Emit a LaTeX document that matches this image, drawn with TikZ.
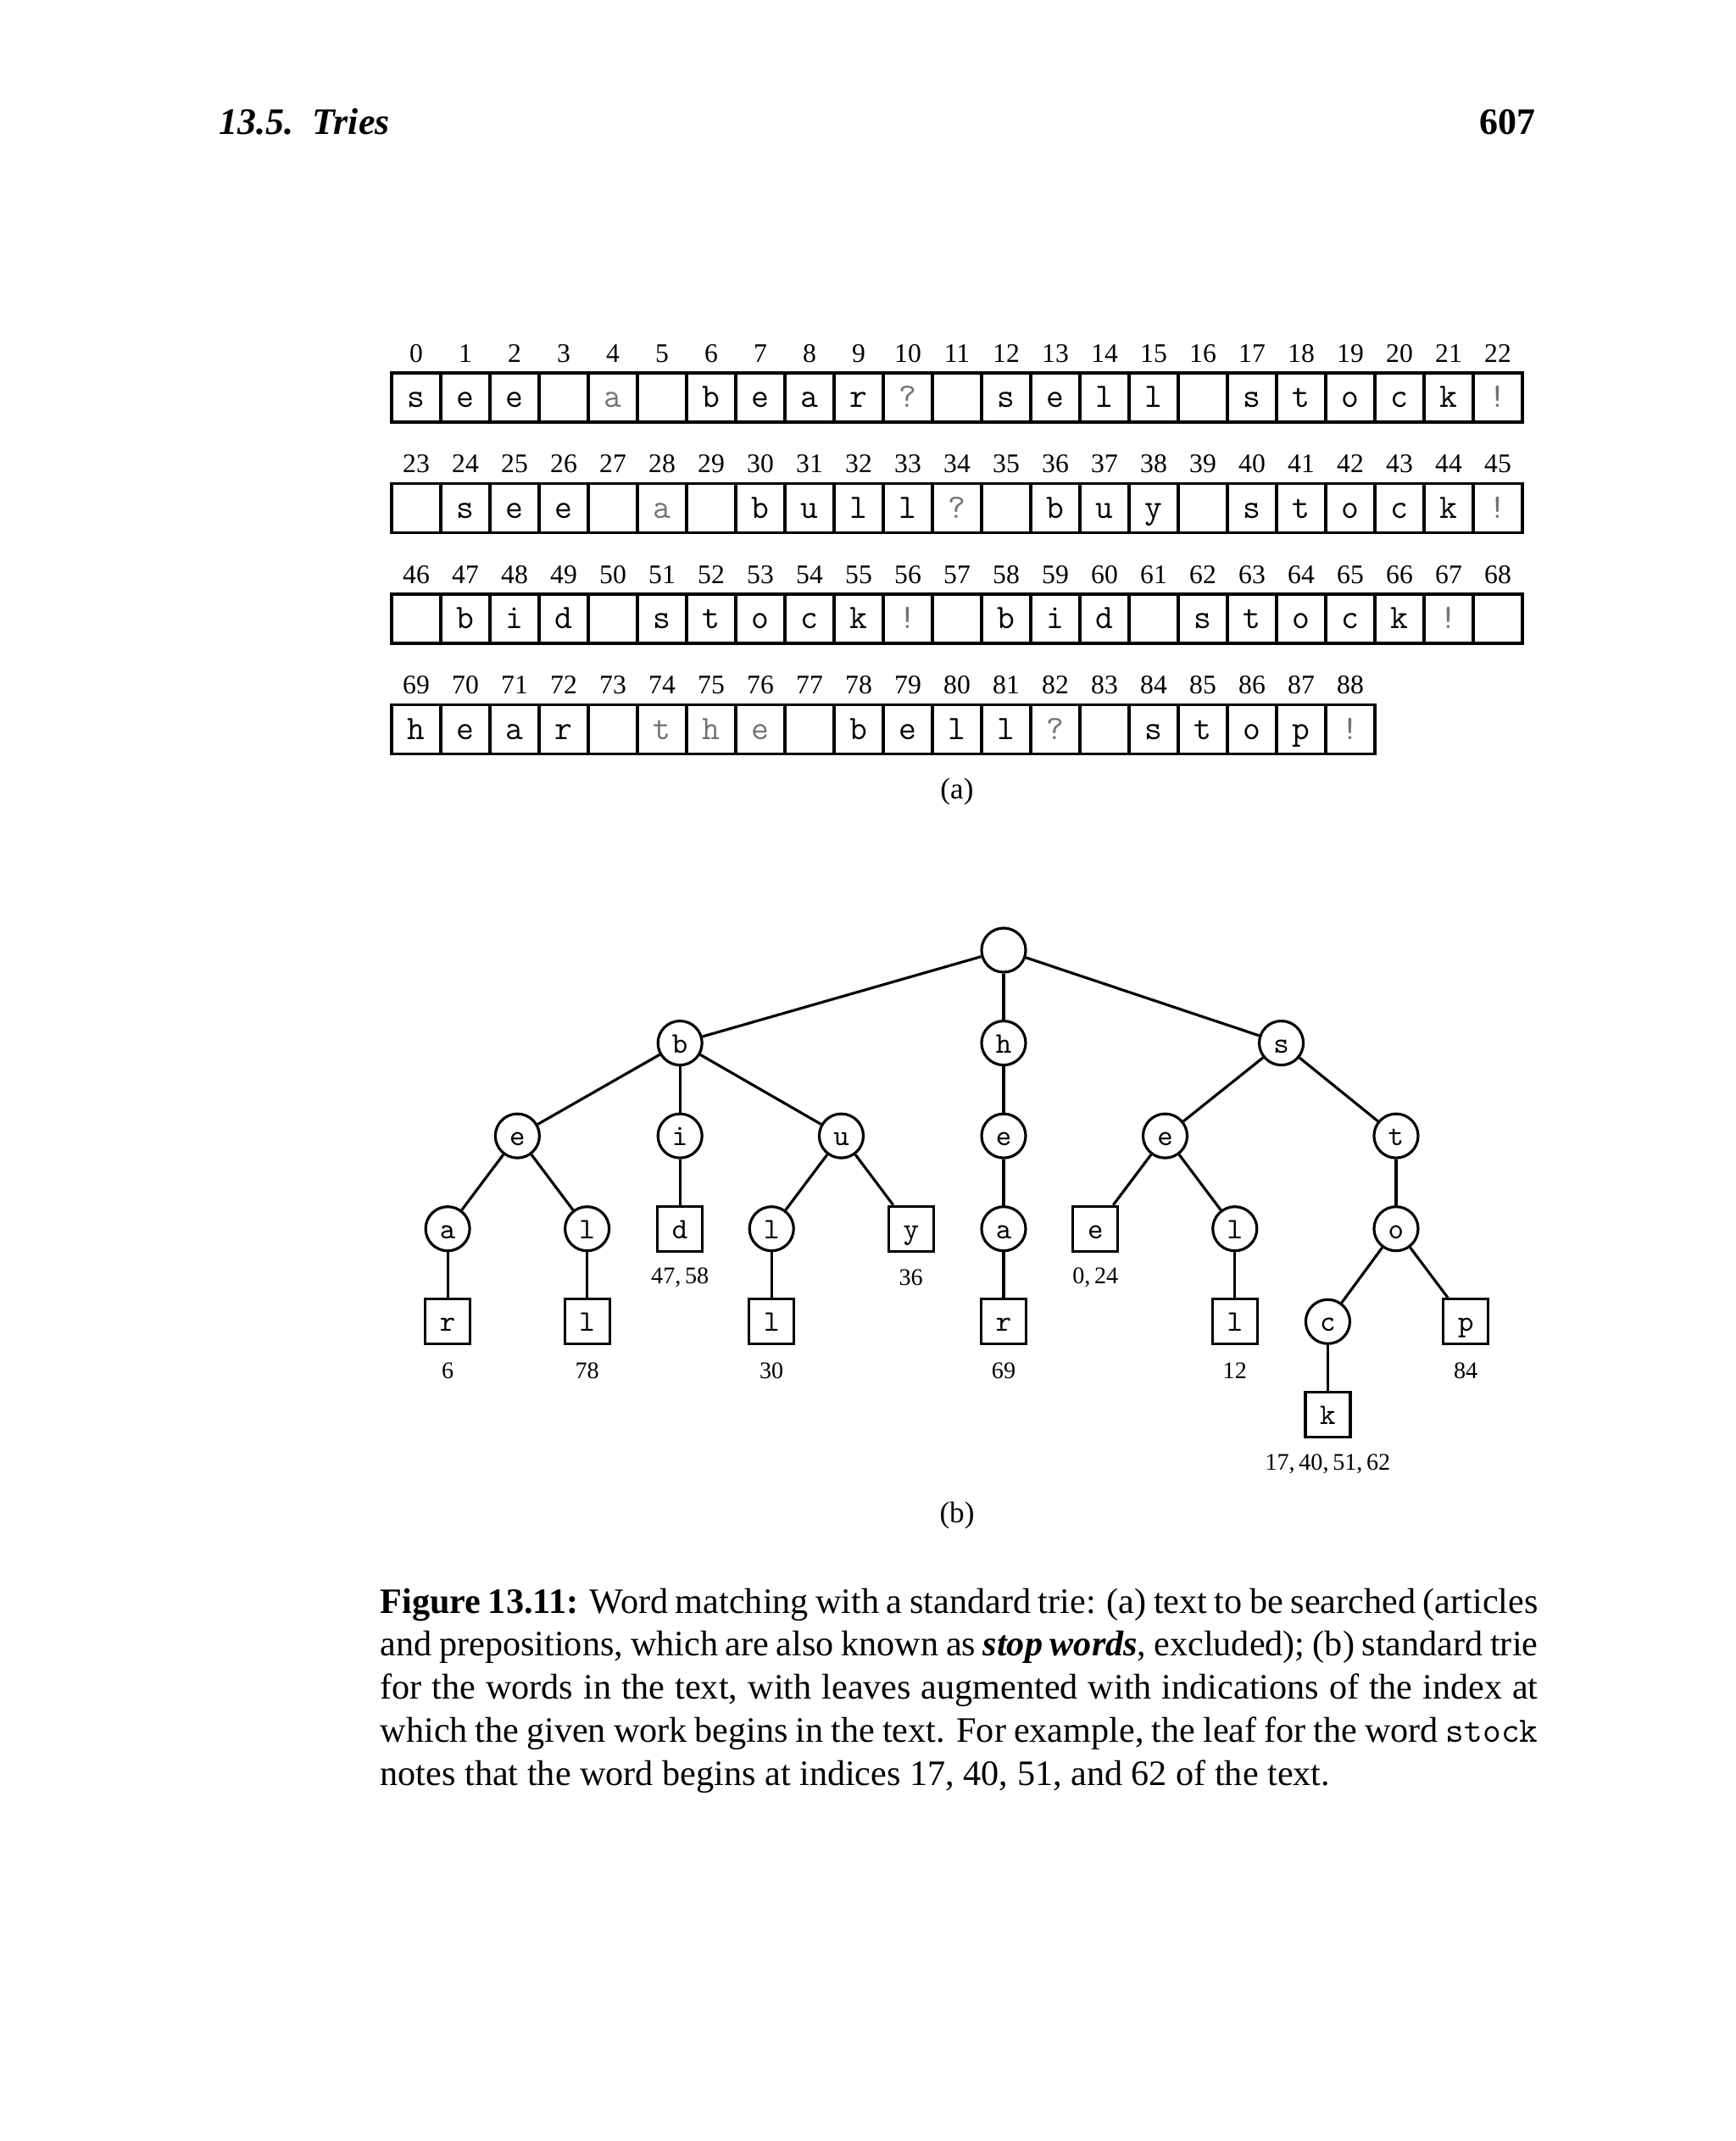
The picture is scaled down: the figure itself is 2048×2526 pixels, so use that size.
\documentclass[tikz,border=0pt]{standalone}
\usepackage{fontspec}
\setmainfont{Liberation Serif}
\usepackage{tikz}
\usetikzlibrary{positioning}
\newcommand{\greyed}[1]{\textcolor{black!55}{#1}}

\begin{document}
\begin{tikzpicture}[x=0.01cm,y=-0.01cm,on grid]

		\def\lev{1.095cm}

		\tikzset{line/.style={draw,line width=0.9pt}}
		\tikzset{cell/.style={line,rectangle,minimum width=0.58cm,minimum height=0.58cm,inner sep=0pt,text height=1.7ex,text depth=0.25ex,font=\ttfamily\fontsize{11.5}{13}\selectfont}}
		\tikzset{num/.style={inner sep=0pt,font=\fontsize{9}{10}\selectfont}}
		\tikzset{inode/.style={line,circle,minimum size=0.52cm,inner sep=0pt,text height=1.7ex,text depth=0.25ex,font=\ttfamily\fontsize{10}{12}\selectfont}}
		\tikzset{leaf/.style={line,rectangle,minimum size=0.53cm,inner sep=0pt,text height=1.7ex,text depth=0.25ex,font=\ttfamily\fontsize{10}{12}\selectfont}}
		\tikzset{hits/.style={inner sep=0pt,font=\fontsize{8}{10}\selectfont}}
		\tikzset{sub/.style={inner sep=0pt,font=\fontsize{10}{12}\selectfont}}

		\fill[white] (0,0) rectangle (2048,2526);
		\useasboundingbox (0,0) rectangle (2048,2526);

		% running head
		\node[anchor=west,inner sep=0pt,font=\fontsize{12.5}{15}\selectfont] (head) at (258,144) {\textbf{\textit{13.5.\ \ Tries}}};
		\node[anchor=east,inner sep=0pt,font=\fontsize{12.5}{15}\selectfont] (page) at (1812,144) {\textbf{607}};

		% (a) text, 23 cells per row
		\foreach \ch [count=\n from 0, evaluate=\n as \col using {int(mod(\n,23))}, evaluate=\n as \row using {int(\n/23)}] in
			{s,e,e,{},\greyed{a},{},b,e,a,r,\greyed{?},{},s,e,l,l,{},s,t,o,c,k,\greyed{!},
			 {},s,e,e,{},\greyed{a},{},b,u,l,l,\greyed{?},{},b,u,y,{},s,t,o,c,k,\greyed{!},
			 {},b,i,d,{},s,t,o,c,k,\greyed{!},{},b,i,d,{},s,t,o,c,k,\greyed{!},{},
			 h,e,a,r,{},\greyed{t},\greyed{h},\greyed{e},{},b,e,l,l,\greyed{?},{},s,t,o,p,\greyed{!}} {
			\node[cell] (t\n) at (491+58*\col, 469+130.5*\row) {\ch};
			\node[num, above=0.52cm of t\n] (n\n) {\n};
		}
		\node[sub] (suba) at (1129,934) {(a)};

		% (b) trie
		\node[inode] (root) at (1184,1121) {};

		\node[inode, below left=\lev and 3.816cm of root] (b) {b};
		\node[inode, below=\lev of root] (h) {h};
		\node[inode, below right=\lev and 3.274cm of root] (s) {s};

		\node[inode, below left=\lev and 1.917cm of b] (be) {e};
		\node[inode, below=\lev of b] (bi) {i};
		\node[inode, below right=\lev and 1.902cm of b] (bu) {u};
		\node[inode, below=\lev of h] (he) {e};
		\node[inode, below left=\lev and 1.37cm of s] (se) {e};
		\node[inode, below right=\lev and 1.353cm of s] (st) {t};

		\node[inode, below left=\lev and 0.822cm of be] (bea) {a};
		\node[inode, below right=\lev and 0.822cm of be] (bel) {l};
		\node[leaf, below=\lev of bi] (bid) {d};
		\node[inode, below left=\lev and 0.822cm of bu] (bul) {l};
		\node[leaf, below right=\lev and 0.822cm of bu] (buy) {y};
		\node[inode, below=\lev of he] (hea) {a};
		\node[leaf, below left=\lev and 0.822cm of se] (see) {e};
		\node[inode, below right=\lev and 0.822cm of se] (sel) {l};
		\node[inode, below=\lev of st] (sto) {o};

		\node[leaf, below=\lev of bea] (bear) {r};
		\node[leaf, below=\lev of bel] (bell) {l};
		\node[leaf, below=\lev of bul] (bull) {l};
		\node[leaf, below=\lev of hea] (hear) {r};
		\node[leaf, below=\lev of sel] (sell) {l};
		\node[inode, below left=\lev and 0.805cm of sto] (stoc) {c};
		\node[leaf, below right=\lev and 0.822cm of sto] (stop) {p};

		\node[leaf, below=\lev of stoc] (stock) {k};

		% indices at the leaves
		\node[hits, below=0.58cm of bid] (hbid) {47,\,58};
		\node[hits, below=0.58cm of buy] (hbuy) {36};
		\node[hits, below=0.58cm of see] (hsee) {0,\,24};
		\node[hits, below=0.58cm of bear] (hbear) {6};
		\node[hits, below=0.58cm of bell] (hbell) {78};
		\node[hits, below=0.58cm of bull] (hbull) {30};
		\node[hits, below=0.58cm of hear] (hhear) {69};
		\node[hits, below=0.58cm of sell] (hsell) {12};
		\node[hits, below=0.58cm of stop] (hstop) {84};
		\node[hits, below=0.58cm of stock] (hstock) {17,\,40,\,51,\,62};

		\path[line] (root) to (b);
		\path[line] (root) to (h);
		\path[line] (root) to (s);

		\path[line] (b) to (be);
		\path[line] (b) to (bi);
		\path[line] (b) to (bu);
		\path[line] (h) to (he);
		\path[line] (s) to (se);
		\path[line] (s) to (st);

		\path[line] (be) to (bea);
		\path[line] (be) to (bel);
		\path[line] (bi) to (bid);
		\path[line] (bu) to (bul);
		\path[line] (bu) to (buy);
		\path[line] (he) to (hea);
		\path[line] (se) to (see);
		\path[line] (se) to (sel);
		\path[line] (st) to (sto);

		\path[line] (bea) to (bear);
		\path[line] (bel) to (bell);
		\path[line] (bul) to (bull);
		\path[line] (hea) to (hear);
		\path[line] (sel) to (sell);
		\path[line] (sto) to (stoc);
		\path[line] (sto) to (stop);
		\path[line] (stoc) to (stock);

		\node[sub] (subb) at (1129,1788) {(b)};

		% caption
		\node[anchor=north west,text width=13.65cm,align=justify,inner sep=0pt,font=\fontsize{12}{14.45}\selectfont] (caption) at (448,1873) {%
			\textbf{Figure 13.11:} Word matching with a standard trie: (a) text to be searched (articles\linebreak
			and prepositions, which are also known as \textbf{\textit{stop words}}, excluded); (b) standard trie\linebreak
			for the words in the text, with leaves augmented with indications of the index at\linebreak
			which the given work begins in the text. For example, the leaf for the word \texttt{stock}\linebreak
			notes that the word begins at indices 17, 40, 51, and 62 of the text.};

	\end{tikzpicture}
\end{document}
